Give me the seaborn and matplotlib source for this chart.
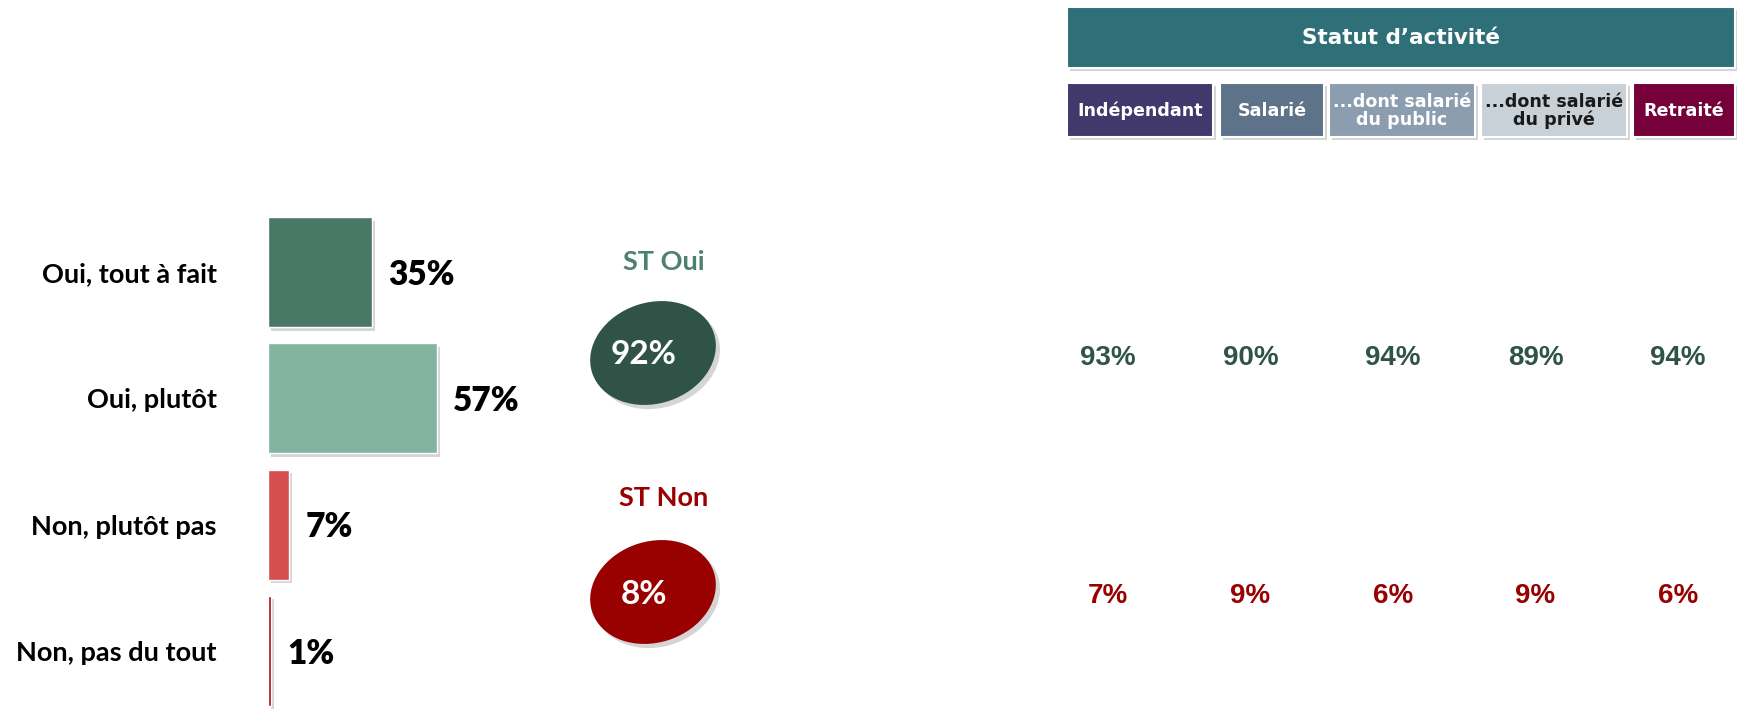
import matplotlib
matplotlib.use("Agg")
import matplotlib.pyplot as plt
import matplotlib.patheffects as pe
from matplotlib.patches import Ellipse, Rectangle
import seaborn as sns
import pandas as pd

# ---------------- data ----------------
categories = ["Oui, tout à fait", "Oui, plutôt", "Non, plutôt pas", "Non, pas du tout"]
values = [35, 57, 7, 1]
bar_colors = ["#4A7866", "#82B4A0", "#D54E50", "#A50F15"]

st_labels = ["ST Oui", "ST Non"]
st_values = [92, 8]
st_fill_colors = ["#2F5346", "#990000"]
st_label_colors = ["#4E8070", "#990000"]

header_title = "Statut d’activité"
statuts = ["Indépendant", "Salarié", "...dont salarié\ndu public", "...dont salarié\ndu privé", "Retraité"]
statut_colors = ["#41396C", "#5E7389", "#8C9DB0", "#C8D0D8", "#76003A"]
statut_text_colors = ["white", "white", "white", "#1A1A1A", "white"]
oui_by_statut = [93, 90, 94, 89, 94]
non_by_statut = [7, 9, 6, 9, 6]

# ---------------- figure ----------------
W, H = 1737, 714
sns.set_theme(style="white")
plt.rcParams["font.family"] = ["Lato", "DejaVu Sans"]

fig = plt.figure(figsize=(W / 100, H / 100), dpi=100)
fig.patch.set_facecolor("white")


def rect(x0, y0, x1, y1):
    return [x0 / W, 1 - y1 / H, (x1 - x0) / W, (y1 - y0) / H]


shadow = [pe.SimplePatchShadow(offset=(2.5, -2.5), shadow_rgbFace="#888888", alpha=0.35), pe.Normal()]

# overlay axes in pixel coordinates for decorations
axp = fig.add_axes([0, 0, 1, 1], zorder=0)
axp.set_xlim(0, W)
axp.set_ylim(H, 0)
axp.axis("off")

# ---------------- bar chart ----------------
ax = fig.add_axes(rect(268, 209, 564, 714), zorder=2)
ax.set_facecolor("none")
df = pd.DataFrame({"cat": categories, "val": values})
sns.barplot(data=df, x="val", y="cat", hue="cat", palette=bar_colors, width=0.87,
            legend=False, ax=ax, saturation=1, orient="h")
ax.set_xlim(0, 100)
ax.set_ylim(3.5, -0.5)
for s in ax.spines.values():
    s.set_visible(False)
ax.set_xticks([])
ax.set_xlabel("")
ax.set_ylabel("")
ax.tick_params(axis="y", length=0, pad=37)
for lbl in ax.get_yticklabels():
    lbl.set_fontsize(19.5)
    lbl.set_fontweight("bold")
    lbl.set_color("black")
for p in ax.patches:
    p.set_path_effects(shadow)
for i, v in enumerate(values):
    ax.annotate(f"{v}%", xy=(v, i), xytext=(12, -2), textcoords="offset points",
                va="center", ha="left", fontsize=24, fontweight="heavy", color="black",
                annotation_clip=False)

# ---------------- ST ellipses ----------------
st_y = [353, 592]
st_label_y = [262, 498]
for lab, val, fc, lc, yy, ly in zip(st_labels, st_values, st_fill_colors, st_label_colors, st_y, st_label_y):
    e = Ellipse((653, yy), width=128, height=101, angle=-18, facecolor=fc, edgecolor="none")
    e.set_path_effects([pe.SimplePatchShadow(offset=(3, -3), shadow_rgbFace="#777777", alpha=0.3), pe.Normal()])
    axp.add_patch(e)
    axp.text(664, ly, lab, ha="center", va="center", fontsize=19.5, fontweight="bold", color=lc)
    axp.text(644, yy + 2, f"{val}%", ha="center", va="center", fontsize=24, fontweight="bold", color="white")

# ---------------- header table ----------------
hdr = Rectangle((1067, 7), 1735 - 1067, 61, facecolor="#2E6F78", edgecolor="white", lw=1.5)
hdr.set_path_effects(shadow)
axp.add_patch(hdr)
axp.text((1067 + 1735) / 2, 38, header_title, ha="center", va="center", color="white",
         fontsize=15.5, fontweight="bold", family=["DejaVu Sans"])

box_x = [(1067, 1213), (1220, 1324), (1329, 1475), (1481, 1627), (1633, 1735)]
for (x0, x1), name, c, tc in zip(box_x, statuts, statut_colors, statut_text_colors):
    r = Rectangle((x0, 83), x1 - x0, 54, facecolor=c, edgecolor="white", lw=1.5)
    r.set_path_effects(shadow)
    axp.add_patch(r)
    axp.text((x0 + x1) / 2, 111, name, ha="center", va="center", color=tc, fontsize=12.6,
             fontweight="bold", family=["DejaVu Sans"], linespacing=1.0)

# ---------------- values by statut ----------------
axv = fig.add_axes(rect(1060, 300, 1726, 650), zorder=1)
axv.set_facecolor("none")
axv.axis("off")
axv.set_xlim(-0.337, 4.337)
axv.set_ylim(1.0, -0.0)
row_y = [(358 - 300) / 350, (596 - 300) / 350]
for i, (o, n) in enumerate(zip(oui_by_statut, non_by_statut)):
    axv.text(i, row_y[0], f"{o}%", ha="center", va="center", fontsize=20, fontweight="bold",
             color="#2F5446", family=["Liberation Sans Narrow", "Liberation Sans"])
    axv.text(i, row_y[1], f"{n}%", ha="center", va="center", fontsize=20, fontweight="bold",
             color="#990000", family=["Liberation Sans Narrow", "Liberation Sans"])

fig.savefig("out.png", dpi=100, facecolor="white")
